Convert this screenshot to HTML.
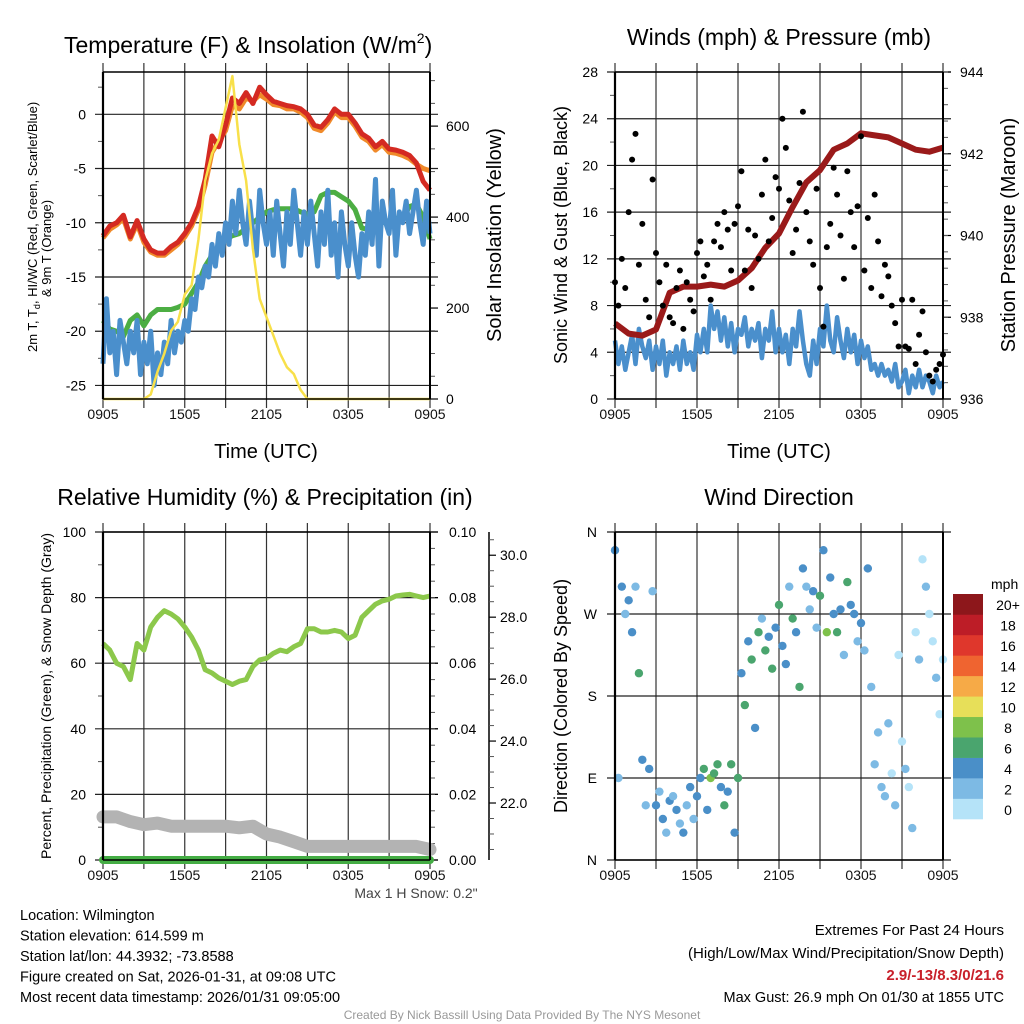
<!DOCTYPE html>
<html><head><meta charset="utf-8"><style>
html,body{margin:0;padding:0;background:#fff}
svg{display:block;font-family:"Liberation Sans",sans-serif}
</style></head><body>
<svg id="fig" width="1024" height="1024" viewBox="0 0 1024 1024"></svg>
<script>
// ---- data (hours since 0905 UTC) ----
const xTickLabels = ["0905","1505","2105","0305","0905"];
const tempRed = [-11.2,-10.3,-10,-9.3,-11.3,-9.8,-11.5,-12.5,-12.8,-12.8,-12.2,-11.8,-11,-10,-8.5,-6,-2,-3,-1,1.5,1,2,1,2.5,1.8,1.2,1,0.8,0.7,0.5,0,-1,-1.2,-0.5,0.5,0,0,-0.8,-1.8,-2.2,-3,-2.5,-3.2,-3.3,-3.5,-3.8,-4.5,-6.2,-7];
const tempOrange = [-11.4,-10.6,-10.2,-9.6,-11.5,-10.1,-11.8,-12.7,-13,-13,-12.5,-12,-11.3,-10.3,-8.8,-6.5,-3.5,-2.5,-1.5,0.8,0.5,1.5,1.2,1.8,1.4,0.9,0.8,0.5,0.5,0.2,-0.3,-1.3,-1.5,-0.8,0.2,-0.3,-0.3,-1.1,-2.1,-2.5,-3.3,-2.8,-3.5,-3.6,-3.8,-4.1,-4.6,-5,-5.2];
const tempGreen = [-19,-19.8,-20,-20.5,-19,-18.5,-19.5,-18.5,-18,-18,-18,-17.8,-17.5,-16.5,-15.5,-14,-13,-12.5,-11.5,-11.2,-11,-10.5,-10,-9.5,-9,-8.8,-8.7,-8.7,-8.7,-9,-9.2,-9,-7.5,-7.2,-7.2,-7.6,-8,-8.8,-10.5,-10.6,-10.5,-10,-9.8,-9.6,-9.5,-8.5,-8.3,-9.5,-11.5];
const tempBlue = [-23,-17,-22,-20,-24,-19,-21,-23,-20,-22,-19,-24,-21,-23,-20,-25,-22,-24,-21,-23,-19,-22,-20,-21,-19,-20,-17,-18,-15,-16,-14,-15,-12,-14,-11,-13,-10,-12,-8,-11,-7,-10,-12,-8,-11,-13,-7,-10,-12,-9,-13,-8,-11,-14,-9,-12,-7,-10,-13,-9,-12,-8,-11,-14,-9,-12,-7,-13,-10,-15,-9,-12,-14,-10,-13,-15,-11,-13,-9,-12,-6,-14,-8,-10,-11,-7,-13,-9,-10,-8,-11,-9,-7,-10,-12,-8,-11];
const insolation = [0,0,0,0,0,0,0,10,60,100,150,170,230,250,350,480,540,570,640,710,560,480,330,220,180,140,100,70,55,20,0,0,0,0,0,0,0,0,0,0,0,0,0,0,0,0,0,0,0];
const tempTicks = [0,-5,-10,-15,-20,-25];
const insTicks = [0,200,400,600];

const pressure = [937.85,937.6,937.55,937.7,938.6,938.75,938.75,938.8,938.75,938.9,939.2,939.7,940.05,940.7,941.3,941.6,942.1,942.25,942.5,942.45,942.4,942.25,942.1,942.05,942.15];
const sonicWind = [5,3,4.5,2.5,4,5.5,3,6,4.5,3.5,5,2.5,4.5,3,5,2,4,3,4.5,2.5,5,3,4,2.5,5.5,4,6,4,8,6,7.5,5,7,4.5,6.5,4,6,5.5,7,4.5,6,5,6.5,3.5,6,5,7.5,4,6,4,5.5,3,6,4.5,7.5,5,3,2,5,3,6,4.5,8,5,4,7,5,3.5,6,4,5.5,3,5,3.5,4.5,2.5,3,2,3,2,2.5,1.5,3,1,1.5,2.5,0.5,2,1,2.5,1,2,1.5,0.5,2,1,1.5];
const gusts = [10,8,12,9.5,16,20.5,22.7,11.5,15,8.5,7,18.8,12.5,10,8,11.5,7,6.5,9.5,11,6,10,8.5,7.5,12.5,13.5,10.5,11.5,8.5,13.5,15,13,16,14.5,11,15,16.5,19.5,11,14.5,9.5,14,12,17.5,20.5,13.5,15.5,19,18,24,21.5,17,12.5,14.5,18.5,24.6,16,13.5,11.5,18,9.5,6.2,13,15,19.8,17.5,14,10.3,19.5,16,13,16.5,22.5,11,15.5,9.5,17.5,13.5,8.8,11.5,10.5,8,6.5,4.5,8.5,4.5,4.3,8.5,3,5.5,7.5,4,2,1.5,2.5,3,3.8];
const windTicks = [0,4,8,12,16,20,24,28];
const presTicks = [936,938,940,942,944];

const rh = [66,64,60,59,55,66,64,71,74,76,75,73.5,71,68,64,58,57,55.5,54.5,53.5,54.5,55,59,61,61.5,63,64,63.5,65,66,70.5,70.5,69.5,69.5,70,69.5,67.5,68.5,74,76,78,79,79.5,80.5,80.8,81,80.5,80,80.5];
const snowDepth = [21.55,21.55,21.4,21.3,21.35,21.25,21.25,21.25,21.25,21.25,21.2,21.25,21.0,20.9,20.75,20.6,20.6,20.6,20.6,20.6,20.6,20.6,20.6,20.6,20.5];
const precip = [0,0,0,0,0,0,0,0,0,0,0,0,0,0,0,0,0,0,0,0,0,0,0,0,0];
const rhTicks = [0,20,40,60,80,100];
const precipTicks = ["0.00","0.02","0.04","0.06","0.08","0.10"];
const snowTicks = ["22.0","24.0","26.0","28.0","30.0"];

const windDir = [340,90,300,270,285,250,300,205,110,60,100,295,60,75,45,30,65,70,55,40,30,60,80,45,70,90,100,55,90,95,105,80,60,75,105,30,90,205,170,240,220,145,250,265,230,245,210,255,280,235,215,300,265,250,190,320,300,275,295,255,290,340,250,310,270,250,275,225,305,280,270,240,260,230,320,190,105,140,80,70,150,95,60,225,130,100,80,35,250,220,330,300,270,240,200,160,220];
const dirLabels = ["N","E","S","W","N"];
const legendLabels = ["0","2","4","6","8","10","12","14","16","18","20+"];
const legendColors = ["#b5e3f8","#7dbae4","#4a8fc8","#4aa56e","#7ec14b","#e7df59","#f6aa47","#ef6430","#df372c","#bd1d27","#8d171b"];

// ---- helpers ----
const svg = document.getElementById('fig');
const NS = 'http://www.w3.org/2000/svg';
function mk(tag, attrs, parent){const e=document.createElementNS(NS,tag);for(const k in attrs)e.setAttribute(k,attrs[k]);(parent||svg).appendChild(e);return e;}
function txt(s, attrs, parent){const e=mk('text',attrs,parent);e.textContent=s;return e;}
function line(x1,y1,x2,y2,stroke,w,parent){return mk('line',{x1,y1,x2,y2,stroke,'stroke-width':w},parent);}
function linear(d0,d1,r0,r1){return v=>r0+(v-d0)/(d1-d0)*(r1-r0);}
function pathD(xs,ys){return xs.map((x,i)=>(i?'L':'M')+x.toFixed(1)+' '+ys[i].toFixed(1)).join(' ');}
function series(vals,xScale,yScale,step){return pathD(vals.map((v,i)=>xScale(i*step)),vals.map(v=>yScale(v)));}

function panelFrame(g,L,T,R,B,xs){
  for(let h=0;h<=24;h+=3){const x=xs(h);const gl=line(x,T-9,x,B+9,'#333',1.2,g);}
  xTickLabels.forEach((s,i)=>{const t=txt(s,{x:xs(i*6),y:B+20,'font-size':14,'text-anchor':'middle',fill:'#111'},g);});
}
function hGrid(g,L,R,y,len){line(L-len,y,R+len,y,'#222',1.2,g);}
function border(g,L,T,R,B){line(L,T,L,B,'#000',2.2,g);line(R,T,R,B,'#000',2,g);line(L,T,R,T,'#000',1.4,g);line(L,B,R,B,'#000',1.4,g);}

// ================= Panel 1: Temperature =================
(function(){
  const g=mk('g',{});
  
  
  const L=103,R=430,T=72,B=399;
  const xs=linear(0,24,L,R), ys=linear(-26.25,3.9,B,T), yi=linear(0,719,B,T);
  const title=txt('Temperature (F) & Insolation (W/m',{x:64,y:53,'font-size':23,fill:'#000'},g);
  
  
  const sup=mk('tspan',{dy:-10,'font-size':14},title);sup.textContent='2';
  const cl=mk('tspan',{dy:10,'font-size':23},title);cl.textContent=')';
  panelFrame(g,L,T,R,B,xs);
  tempTicks.forEach(v=>{const y=ys(v);hGrid(g,L,R,y,8);const t=txt(v,{x:86,y:y+5,'font-size':14,'text-anchor':'end'},g);});
  for(let v=-25;v<=2.5;v+=2.5){if(v%5!==0)line(L-5,ys(v),L,ys(v),'#555',1,g);}
  insTicks.forEach(v=>{const y=yi(v);line(R,y,R+8,y,'#000',1.2,g);const t=txt(v,{x:446,y:y+5,'font-size':14},g);});
  for(let v=50;v<=700;v+=50){if(v%200)line(R,yi(v),R+5,yi(v),'#555',1,g);}
  const p1=mk('path',{d:series(tempOrange,xs,ys,0.5),fill:'none',stroke:'#f08a2a','stroke-width':5,'stroke-linejoin':'round'},g);
  const p2=mk('path',{d:series(tempRed,xs,ys,0.5),fill:'none',stroke:'#d42a22','stroke-width':5,'stroke-linejoin':'round'},g);
  const p3=mk('path',{d:series(tempGreen,xs,ys,0.5),fill:'none',stroke:'#4cae43','stroke-width':5,'stroke-linejoin':'round'},g);
  const p4=mk('path',{d:series(tempBlue,xs,ys,0.25),fill:'none',stroke:'#4a8fcc','stroke-width':5,'stroke-linejoin':'round'},g);
  const p5=mk('path',{d:series(insolation,xs,yi,0.5),fill:'none',stroke:'#f8e04a','stroke-width':2.5,'stroke-linejoin':'round'},g);
  border(g,L,T,R,B);
  const yt=txt('2m T, T',{transform:'translate(37,352) rotate(-90)','font-size':13},g);
  
  const ts=mk('tspan',{'font-size':9,dy:3},yt);ts.textContent='d';
  const ts2=mk('tspan',{dy:-3},yt);ts2.textContent=', HI/WC (Red, Green, Scarlet/Blue)';
  txt('& 9m T (Orange)',{transform:'translate(51,297) rotate(-90)','font-size':13},g);
  const rt=txt('Solar Insolation (Yellow)',{transform:'translate(501,235) rotate(-90)','font-size':20,'text-anchor':'middle'},g);
  const xt=txt('Time (UTC)',{x:266,y:458,'font-size':20,'text-anchor':'middle'},g);
})();

// ================= Panel 2: Winds =================
(function(){
  const g=mk('g',{});
  
  
  const L=615,R=943,T=72,B=399;
  const xs=linear(0,24,L,R), ys=linear(0,28,B,T), yp=linear(936,944,B,T);
  const tt=txt('Winds (mph) & Pressure (mb)',{x:779,y:45,'font-size':23,'text-anchor':'middle'},g);
  panelFrame(g,L,T,R,B,xs);
  windTicks.forEach(v=>{const y=ys(v);hGrid(g,L,R,y,8);const t=txt(v,{x:598,y:y+5,'font-size':14,'text-anchor':'end'},g);});
  for(let v=2;v<28;v+=4)line(L-5,ys(v),L,ys(v),'#555',1,g);
  presTicks.forEach(v=>{const y=yp(v);line(R,y,R+8,y,'#000',1.2,g);const t=txt(v,{x:960,y:y+5,'font-size':14},g);});
  for(let v=936.4;v<944;v+=0.4){line(R,yp(v),R+5,yp(v),'#555',1,g);}
  const pw=mk('path',{d:series(sonicWind,xs,ys,0.25),fill:'none',stroke:'#4a8fcc','stroke-width':4.5,'stroke-linejoin':'round'},g);
  const pp=mk('path',{d:series(pressure,xs,yp,1),fill:'none',stroke:'#9a1a1a','stroke-width':6,'stroke-linejoin':'round'},g);
  gusts.forEach((v,i)=>{const c=mk('circle',{cx:xs(i*0.25),cy:ys(v),r:3,fill:'#000'},g);});
  border(g,L,T,R,B);
  const yt=txt('Sonic Wind & Gust (Blue, Black)',{transform:'translate(567,235) rotate(-90)','font-size':18,'text-anchor':'middle'},g);
  const rt=txt('Station Pressure (Maroon)',{transform:'translate(1015,235) rotate(-90)','font-size':20,'text-anchor':'middle'},g);
  const xt=txt('Time (UTC)',{x:779,y:458,'font-size':20,'text-anchor':'middle'},g);
})();

// ================= Panel 3: RH =================
(function(){
  const g=mk('g',{});
  
  
  const L=103,R=430,T=532,B=860;
  const xs=linear(0,24,L,R), ys=linear(0,100,B,T), yp=linear(0,0.1,B,T), yd=linear(20.16,30.75,B,T);
  const tt=txt('Relative Humidity (%) & Precipitation (in)',{x:265,y:505,'font-size':23,'text-anchor':'middle'},g);
  panelFrame(g,L,T,R,B,xs);
  rhTicks.forEach(v=>{const y=ys(v);hGrid(g,L,R,y,8);const t=txt(v,{x:86,y:y+5,'font-size':14,'text-anchor':'end'},g);});
  for(let v=10;v<100;v+=20)line(L-5,ys(v),L,ys(v),'#555',1,g);
  precipTicks.forEach(s=>{const y=yp(+s);line(R,y,R+8,y,'#000',1.2,g);const t=txt(s,{x:449,y:y+5,'font-size':14},g);});
  for(let v=0.005;v<0.1;v+=0.005){line(R,yp(v),R+5,yp(v),'#555',1,g);}
  const ax=line(489,T,489,B,'#000',1.5,g);
  snowTicks.forEach(s=>{const y=yd(+s);line(489,y,496,y,'#000',1.2,g);const t=txt(s,{x:500,y:y+5,'font-size':14},g);});
  for(let v=20.5;v<30.75;v+=0.5){if(Math.abs(v-Math.round(v/2)*2)>0.01)line(489,yd(v),494,yd(v),'#555',1,g);}
  const ps=mk('path',{d:series(snowDepth,xs,yd,1),fill:'none',stroke:'#b3b3b3','stroke-width':13,'stroke-linejoin':'round','stroke-linecap':'round'},g);
  const pr=mk('path',{d:series(precip,xs,yp,1),fill:'none',stroke:'#44ad44','stroke-width':8,'stroke-linecap':'round'},g);
  const ph=mk('path',{d:series(rh,xs,ys,0.5),fill:'none',stroke:'#8cc84b','stroke-width':5,'stroke-linejoin':'round'},g);
  border(g,L,T,R,B);
  const yt=txt('Percent, Precipitation (Green), & Snow Depth (Gray)',{transform:'translate(51,696) rotate(-90)','font-size':14,'text-anchor':'middle'},g);
  const ms=txt('Max 1 H Snow: 0.2"',{x:416,y:898,'font-size':14,'text-anchor':'middle',fill:'#444'},g);
})();

// ================= Panel 4: Wind direction =================
(function(){
  const g=mk('g',{});
  
  
  const L=615,R=943,T=532,B=860;
  const xs=linear(0,24,L,R), ys=linear(0,360,B,T);
  const tt=txt('Wind Direction',{x:779,y:505,'font-size':23,'text-anchor':'middle'},g);
  panelFrame(g,L,T,R,B,xs);
  dirLabels.forEach((s,i)=>{const y=ys(i*90);hGrid(g,L,R,y,8);const t=txt(s,{x:597,y:y+5,'font-size':14,'text-anchor':'end'},g);});
  windDir.forEach((d,i)=>{const sp=sonicWind[i];const k=Math.min(10,Math.max(0,Math.floor(sp/2)));const c=mk('circle',{cx:xs(i*0.25),cy:ys(d),r:4.2,fill:legendColors[k]},g);});
  border(g,L,T,R,B);
  const yt=txt('Direction (Colored By Speed)',{transform:'translate(567,696) rotate(-90)','font-size':18,'text-anchor':'middle'},g);
  const lg=mk('g',{},g);
  txt('mph',{x:991,y:589,'font-size':14},lg);
  const bh=(819-594)/11;
  legendLabels.forEach((s,i)=>{const y=819-(i+1)*bh;const r=mk('rect',{x:953,y:y,width:30,height:bh+0.3,fill:legendColors[i]},lg);const t=txt(s,{x:1008,y:y+bh/2+6,'font-size':14,'text-anchor':'middle'},lg);});
})();

// ================= Footer =================
(function(){
  const g=mk('g',{});
  
  
  const left=["Location: Wilmington","Station elevation: 614.599 m","Station lat/lon: 44.3932; -73.8588","Figure created on Sat, 2026-01-31, at 09:08 UTC","Most recent data timestamp: 2026/01/31 09:05:00"];
  left.forEach((s,i)=>txt(s,{x:20,y:920+i*20.5,'font-size':14.5},g));
  txt('Extremes For Past 24 Hours',{x:1004,y:935,'font-size':15,'text-anchor':'end'},g);
  txt('(High/Low/Max Wind/Precipitation/Snow Depth)',{x:1004,y:958,'font-size':15,'text-anchor':'end'},g);
  const ex=txt('2.9/-13/8.3/0/21.6',{x:1004,y:980,'font-size':15,'text-anchor':'end',fill:'#c8202a','font-weight':'bold'},g);
  txt('Max Gust: 26.9 mph On 01/30 at 1855 UTC',{x:1004,y:1002,'font-size':14.5,'text-anchor':'end'},g);
  const cr=txt('Created By Nick Bassill Using Data Provided By The NYS Mesonet',{x:522,y:1019,'font-size':12,'text-anchor':'middle',fill:'#999'},g);
})();
</script>
</body></html>
